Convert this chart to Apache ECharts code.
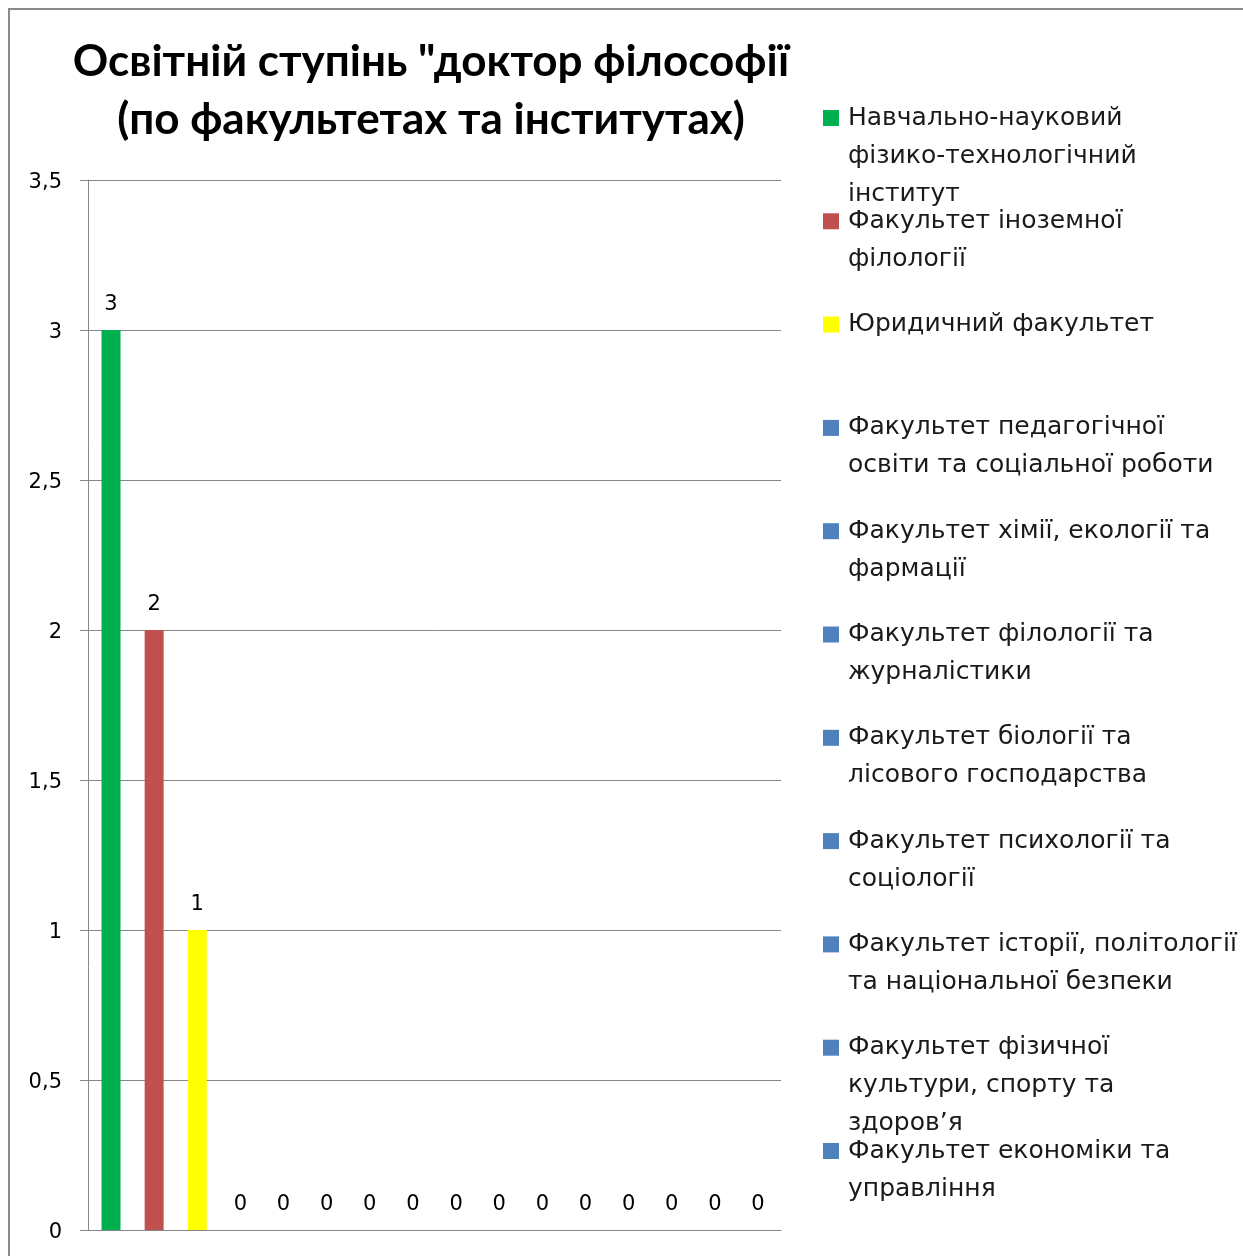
<!DOCTYPE html>
<html>
<head>
<meta charset="utf-8">
<script src="https://cdn.jsdelivr.net/npm/echarts@6/dist/echarts.min.js"></script>
<style>
html,body{margin:0;padding:0;background:#fff;}
#chart{width:1243px;height:1256px;}
</style>
</head>
<body>
<div id="chart"></div>
<script>
const titleText = 'Освітній ступінь "доктор філософії\n(по факультетах та інститутах)';
const seriesNames = [
  'Навчально-науковий фізико-технологічний інститут',
  'Факультет іноземної філології',
  'Юридичний факультет',
  'Факультет педагогічної освіти та соціальної роботи',
  'Факультет хімії, екології та фармації',
  'Факультет філології та журналістики',
  'Факультет біології та лісового господарства',
  'Факультет психології та соціології',
  'Факультет історії, політології та національної безпеки',
  'Факультет фізичної культури, спорту та здоров’я',
  'Факультет економіки та управління',
  'Ряд12', 'Ряд13', 'Ряд14', 'Ряд15', 'Ряд16'
];
const legendLabels = [
  'Навчально-науковий\nфізико-технологічний\nінститут',
  'Факультет іноземної\nфілології',
  'Юридичний факультет',
  'Факультет педагогічної\nосвіти та соціальної роботи',
  'Факультет хімії, екології та\nфармації',
  'Факультет філології та\nжурналістики',
  'Факультет біології та\nлісового господарства',
  'Факультет психології та\nсоціології',
  'Факультет історії, політології\nта національної безпеки',
  'Факультет фізичної\nкультури, спорту та\nздоров’я',
  'Факультет економіки та\nуправління'
];
const values = [3, 2, 1, 0, 0, 0, 0, 0, 0, 0, 0, 0, 0, 0, 0, 0];
const seriesColors = ['#00B050', '#C0504D', '#FFFF00', '#4F81BD', '#4F81BD', '#4F81BD', '#4F81BD', '#4F81BD',
  '#4F81BD', '#4F81BD', '#4F81BD', '#4F81BD', '#4F81BD', '#4F81BD', '#4F81BD', '#4F81BD'];
const categories = [''];
const yTicks = [0, 0.5, 1, 1.5, 2, 2.5, 3, 3.5];

const chart = echarts.init(document.getElementById('chart'));
const LH = 38;
const legendStep = 103.3;
const legendFirst = 118;
const legends = legendLabels.map((lbl, i) => {
  const n = lbl.split('\n').length;
  // blank leading lines so the icon (centred on the text block) lines up with the first line
  const shown = '\n'.repeat(n - 1) + lbl;
  return {
    orient: 'vertical',
    left: 823,
    top: legendFirst + i * legendStep - (2 * n - 1) * LH / 2,
    padding: 0,
    itemWidth: 16,
    itemHeight: 16,
    itemGap: 0,
    icon: 'rect',
    selectedMode: false,
    data: [seriesNames[i]],
    formatter: () => shown,
    textStyle: {
      fontFamily: 'DejaVu Sans',
      fontSize: 25,
      color: '#1a1a1a',
      lineHeight: LH,
      padding: [0, 0, 0, 4]
    }
  };
});

const option = {
  backgroundColor: '#ffffff',
  animation: false,
  title: {
    text: titleText,
    left: 426,
    textAlign: 'center',
    top: 28,
    textStyle: {
      fontFamily: 'Lato',
      fontWeight: 'bold',
      fontSize: 44,
      lineHeight: 58,
      color: '#000'
    }
  },
  legend: legends,
  grid: { left: 88, right: 462, top: 180, bottom: 26, containLabel: false },
  xAxis: {
    type: 'category',
    data: categories,
    axisLine: { show: true, lineStyle: { color: '#868686', width: 1 } },
    axisTick: { show: false },
    axisLabel: { show: false }
  },
  yAxis: {
    type: 'value',
    min: 0,
    max: 3.5,
    interval: 0.5,
    axisLine: { show: true, lineStyle: { color: '#868686', width: 1 } },
    axisTick: { show: true, length: 8, lineStyle: { color: '#868686' } },
    splitLine: { show: true, lineStyle: { color: '#868686', width: 1 } },
    axisLabel: {
      margin: 26,
      formatter: v => '{v|' + String(v).replace('.', ',') + '}',
      rich: {
        v: {
          fontFamily: 'DejaVu Sans',
          fontSize: 21,
          color: '#000',
          padding: [6, 0, 0, 0]
        }
      }
    }
  },
  series: seriesNames.map((name, i) => ({
    name: name,
    type: 'bar',
    data: [values[i]],
    barWidth: 19,
    barGap: '127%',
    itemStyle: { color: seriesColors[i] },
    label: {
      show: true,
      position: 'top',
      distance: 15,
      fontFamily: 'DejaVu Sans',
      fontSize: 21,
      color: '#000'
    }
  })),
  graphic: [{
    type: 'rect',
    silent: true,
    z: -1,
    shape: { x: 9, y: 9, width: 1400, height: 1400 },
    style: { fill: 'none', stroke: '#8a8a8a', lineWidth: 2 }
  }]
};
chart.setOption(option);
</script>
</body>
</html>
